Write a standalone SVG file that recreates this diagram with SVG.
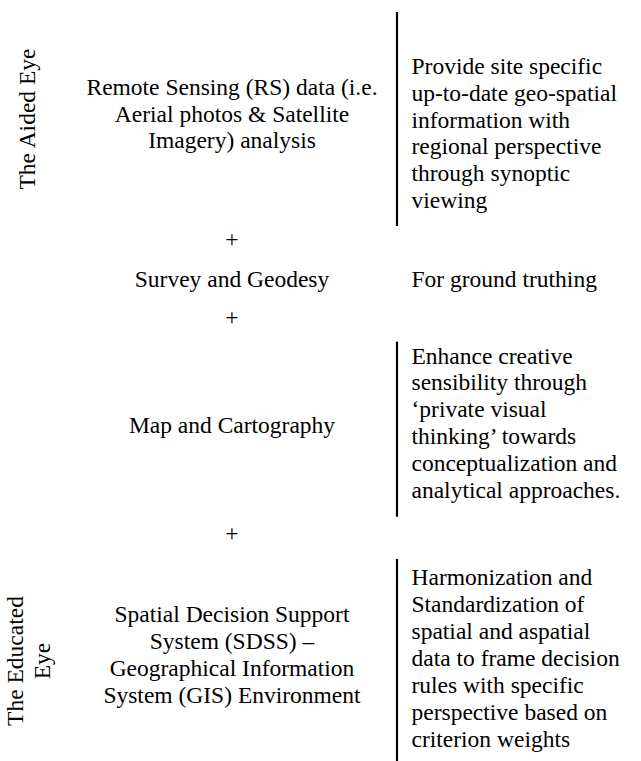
<svg xmlns="http://www.w3.org/2000/svg" width="641" height="761" viewBox="0 0 641 761">
<style>
text{font-family:"Liberation Serif","Times New Roman",serif;font-size:23.5px;fill:#000}
.c{text-anchor:middle}
.sep{stroke:#000;stroke-width:2.2;fill:none}
</style>
<rect width="641" height="761" fill="#fff"/>
<g id="label-aided">
<text class="c" transform="translate(35,119) rotate(-90)">The Aided Eye</text>
</g>
<g id="label-educated">
<text class="c" transform="translate(23,661) rotate(-90)">The Educated</text>
<text class="c" transform="translate(50,661) rotate(-90)">Eye</text>
</g>
<g id="node-rs">
<text class="c" x="232" y="95">Remote Sensing (RS) data (i.e.</text>
<text class="c" x="232" y="121.7">Aerial photos &amp; Satellite</text>
<text class="c" x="232" y="148.4">Imagery) analysis</text>
</g>
<g id="plus-1"><text class="c" x="232" y="247">+</text></g>
<g id="node-survey"><text class="c" x="232" y="287">Survey and Geodesy</text></g>
<g id="plus-2"><text class="c" x="232" y="325">+</text></g>
<g id="node-map"><text class="c" x="232" y="432.5">Map and Cartography</text></g>
<g id="plus-3"><text class="c" x="232" y="541">+</text></g>
<g id="node-sdss">
<text class="c" x="232" y="622">Spatial Decision Support</text>
<text class="c" x="232" y="649">System (SDSS) –</text>
<text class="c" x="232" y="676">Geographical Information</text>
<text class="c" x="232" y="703">System (GIS) Environment</text>
</g>
<g id="desc-rs">
<text x="411.5" y="74">Provide site specific</text>
<text x="411.5" y="100.8">up-to-date geo-spatial</text>
<text x="411.5" y="127.6">information with</text>
<text x="411.5" y="154.4">regional perspective</text>
<text x="411.5" y="181.2">through synoptic</text>
<text x="411.5" y="208">viewing</text>
</g>
<g id="desc-survey"><text x="411.5" y="287">For ground truthing</text></g>
<g id="desc-map">
<text x="411.5" y="363.5">Enhance creative</text>
<text x="411.5" y="390.3">sensibility through</text>
<text x="411.5" y="417.1">‘private visual</text>
<text x="411.5" y="443.9">thinking’ towards</text>
<text x="411.5" y="470.7">conceptualization and</text>
<text x="411.5" y="497.5">analytical approaches.</text>
</g>
<g id="desc-sdss">
<text x="411.5" y="585">Harmonization and</text>
<text x="411.5" y="612">Standardization of</text>
<text x="411.5" y="639">spatial and aspatial</text>
<text x="411.5" y="666">data to frame decision</text>
<text x="411.5" y="693">rules with specific</text>
<text x="411.5" y="720">perspective based on</text>
<text x="411.5" y="747">criterion weights</text>
</g>
<g id="connectors">
<line class="sep" x1="397" y1="12" x2="397" y2="226"/>
<line class="sep" x1="397" y1="341.7" x2="397" y2="516.7"/>
<line class="sep" x1="397" y1="559" x2="397" y2="761"/>
</g>
</svg>
